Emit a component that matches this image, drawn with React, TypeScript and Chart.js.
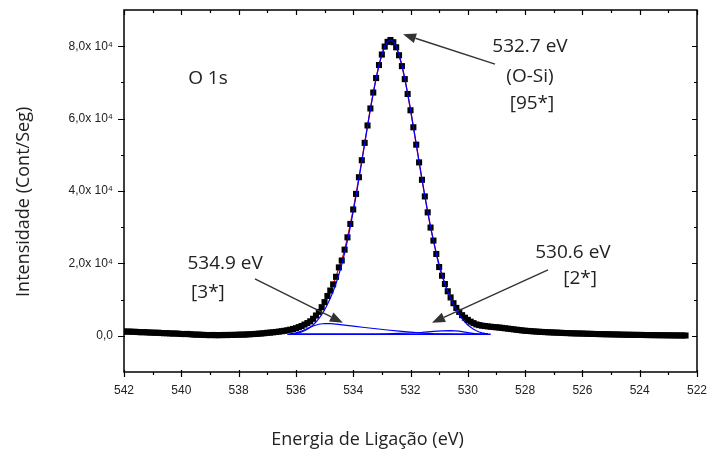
import React, { useEffect, useRef } from "react";
import { Chart, registerables } from "chart.js";

Chart.register(...registerables);

// ---------- data ----------
// measured spectrum: binding energy grid starts at 542.0 eV and steps down by 0.1 eV
const ENERGY_START = 542.0;
const ENERGY_STEP = 0.1;
const measuredCounts = [
  1200, 1140, 1180, 1090, 1110, 1030, 980, 1010, 940, 900,
  880, 830, 850, 770, 710, 730, 660, 620, 640, 570,
  510, 470, 520, 430, 380, 310, 340, 270, 240, 210,
  180, 230, 150, 200, 170, 240, 190, 260, 230, 280,
  300, 340, 320, 390, 430, 480, 520, 590, 640, 720,
  820, 880, 960, 1050, 1150, 1260, 1380, 1520, 1680, 1880,
  2100, 2400, 2700, 3100, 3500, 4000, 4700, 5600, 6600, 7900,
  9300, 11000, 12500, 14200, 16300, 18900, 20800, 23800, 27200, 30900,
  34900, 39200, 43800, 48500, 53300, 58100, 62800, 67200, 71200, 74800,
  77700, 79900, 81200, 81700, 81100, 79700, 77500, 74500, 70900, 66800,
  62300, 57600, 52800, 47900, 43100, 38500, 34100, 29900, 26300, 22600,
  19000, 16600, 14300, 12300, 10600, 9000, 7700, 6600, 5700, 5000,
  4400, 3900, 3500, 3150, 2950, 2800, 2700, 2600, 2500, 2420,
  2350, 2280, 2180, 2080, 1980, 1880, 1780, 1680, 1580, 1480,
  1400, 1340, 1280, 1220, 1160, 1110, 1060, 1020, 980, 950,
  900, 880, 840, 800, 760, 740, 700, 680, 650, 640,
  620, 580, 560, 540, 510, 490, 470, 450, 430, 420,
  400, 380, 360, 340, 320, 300, 290, 280, 260, 250,
  240, 230, 210, 200, 190, 180, 170, 160, 150, 140,
  130, 120, 110, 100, 100, 90, 80,
];

// fit range
const FIT_START = 536.2;
const FIT_END = 529.3;

// main component 532.7 eV (O-Si), grid from 536.2 eV down by 0.1 eV
const mainComponent = [
  480, 550, 650, 830, 1050, 1400, 1800, 2350, 3000, 3800,
  4750, 5850, 7150, 8650, 10350, 12250, 14450, 16900, 19700, 22850,
  26350, 30150, 34300, 38700, 43350, 48150, 53000, 57850, 62600, 67050,
  71150, 74750, 77700, 79900, 81300, 81750, 81300, 79900, 77700, 74750,
  71150, 67050, 62600, 57850, 53000, 48150, 43350, 38700, 34300, 30150,
  26350, 22850, 19700, 16900, 14450, 12250, 10350, 8650, 7150, 5850,
  4750, 3800, 3000, 2350, 1800, 1400, 1050, 830, 650, 550,
];

// component 534.9 eV
const comp1Energy = [536.2, 536.0, 535.8, 535.6, 535.4, 535.2, 535.0, 534.8, 534.6, 534.3, 534.0, 533.6, 533.2, 532.8, 532.4, 532.0, 531.6, 531.2, 530.8, 530.4, 530.0, 529.6, 529.3];
const comp1Counts = [480, 800, 1300, 2000, 2700, 3200, 3400, 3350, 3200, 2950, 2650, 2300, 1950, 1600, 1300, 1000, 760, 600, 520, 480, 460, 455, 450];

// component 530.6 eV
const comp2Energy = [536.2, 533.6, 533.2, 532.8, 532.4, 532.0, 531.6, 531.2, 530.9, 530.6, 530.3, 530.0, 529.7, 529.5, 529.3];
const comp2Counts = [450, 460, 500, 560, 650, 780, 950, 1200, 1380, 1450, 1300, 900, 550, 470, 455];

// background
const baselineEnergy = [536.3, 529.2];
const baselineCounts = [450, 450];

// axes
const X_MIN = 522;
const X_MAX = 542;
const Y_MIN = -10000;
const Y_MAX = 90000;
const xMajorTicks = [542, 540, 538, 536, 534, 532, 530, 528, 526, 524, 522];
const xMinorTicks = [541, 539, 537, 535, 533, 531, 529, 527, 525, 523];
const yMajorTicks = [0, 20000, 40000, 60000, 80000];
const yTickLabels = ["0,0", "2,0x 10\u2074", "4,0x 10\u2074", "6,0x 10\u2074", "8,0x 10\u2074"];
const yMinorTicks = [10000, 30000, 50000, 70000];

const X_TITLE = "Energia de Ligação (eV)";
const Y_TITLE = "Intensidade (Cont/Seg)";

// annotations (data units)
const labelTexts = ["O 1s", "532.7 eV", "(O-Si)", "[95*]", "534.9 eV", "[3*]", "530.6 eV", "[2*]"];
const labelEnergy = [539.07, 527.83, 527.83, 527.76, 538.47, 539.07, 526.33, 526.08];
const labelCounts = [71170, 80000, 71720, 64280, 19860, 11860, 22900, 15720];

const arrowFromEnergy = [529.05, 537.43, 527.2];
const arrowFromCounts = [75030, 15720, 18210];
const arrowToEnergy = [532.26, 534.36, 531.25];
const arrowToCounts = [83310, 3590, 3590];

// ---------- helpers ----------
const round1 = (v: number) => Math.round(v * 10) / 10;
const measuredPoints = measuredCounts.map((c, i) => ({ x: round1(ENERGY_START - i * ENERGY_STEP), y: c }));
const mainPoints = mainComponent.map((c, i) => ({ x: round1(FIT_START - i * ENERGY_STEP), y: c }));
const envelopePoints = measuredPoints.filter((p) => p.x <= FIT_START && p.x >= FIT_END);
const comp1Points = comp1Energy.map((e, i) => ({ x: e, y: comp1Counts[i] }));
const comp2Points = comp2Energy.map((e, i) => ({ x: e, y: comp2Counts[i] }));
const baselinePoints = baselineEnergy.map((e, i) => ({ x: e, y: baselineCounts[i] }));

const TEXT_COLOR = "#222";
const TITLE_FONT = '18px "Open Sans", "DejaVu Sans", sans-serif';
const NOTE_FONT = '19px "Open Sans", "DejaVu Sans", sans-serif';

const decorPlugin = {
  id: "decor",
  afterDraw(chart: any) {
    const { ctx, chartArea: a, scales } = chart;
    const xs = scales.x;
    const ys = scales.y;
    ctx.save();

    // frame
    ctx.strokeStyle = "#000";
    ctx.lineWidth = 1.5;
    ctx.strokeRect(a.left, a.top, a.right - a.left, a.bottom - a.top);

    // ticks
    ctx.lineWidth = 1.2;
    ctx.beginPath();
    for (const v of xMajorTicks) {
      const px = Math.round(xs.getPixelForValue(v)) + 0.5;
      ctx.moveTo(px, a.bottom - 2);
      ctx.lineTo(px, a.bottom + 5);
      ctx.moveTo(px, a.top);
      ctx.lineTo(px, a.top + 5);
    }
    for (const v of xMinorTicks) {
      const px = Math.round(xs.getPixelForValue(v)) + 0.5;
      ctx.moveTo(px, a.bottom);
      ctx.lineTo(px, a.bottom + 3);
      ctx.moveTo(px, a.top);
      ctx.lineTo(px, a.top + 3);
    }
    for (const v of yMajorTicks) {
      const py = Math.round(ys.getPixelForValue(v)) + 0.5;
      ctx.moveTo(a.left - 6, py);
      ctx.lineTo(a.left + 1, py);
      ctx.moveTo(a.right, py);
      ctx.lineTo(a.right - 5, py);
    }
    for (const v of yMinorTicks) {
      const py = Math.round(ys.getPixelForValue(v)) + 0.5;
      ctx.moveTo(a.left - 3, py);
      ctx.lineTo(a.left, py);
      ctx.moveTo(a.right, py);
      ctx.lineTo(a.right - 3, py);
    }
    ctx.stroke();

    // arrows
    ctx.strokeStyle = "#333";
    ctx.fillStyle = "#333";
    for (let i = 0; i < arrowFromEnergy.length; i++) {
      const x0 = xs.getPixelForValue(arrowFromEnergy[i]);
      const y0 = ys.getPixelForValue(arrowFromCounts[i]);
      const x1 = xs.getPixelForValue(arrowToEnergy[i]);
      const y1 = ys.getPixelForValue(arrowToCounts[i]);
      const ang = Math.atan2(y1 - y0, x1 - x0);
      const hl = 13;
      const hw = 5;
      const bx = x1 - hl * Math.cos(ang);
      const by = y1 - hl * Math.sin(ang);
      ctx.lineWidth = 1.4;
      ctx.beginPath();
      ctx.moveTo(x0, y0);
      ctx.lineTo(bx, by);
      ctx.stroke();
      ctx.beginPath();
      ctx.moveTo(x1, y1);
      ctx.lineTo(bx + hw * Math.sin(ang), by - hw * Math.cos(ang));
      ctx.lineTo(bx - hw * Math.sin(ang), by + hw * Math.cos(ang));
      ctx.closePath();
      ctx.fill();
    }

    // notes
    ctx.fillStyle = TEXT_COLOR;
    ctx.font = NOTE_FONT;
    ctx.textAlign = "center";
    ctx.textBaseline = "middle";
    for (let i = 0; i < labelTexts.length; i++) {
      ctx.fillText(labelTexts[i], xs.getPixelForValue(labelEnergy[i]), ys.getPixelForValue(labelCounts[i]));
    }

    // axis titles
    ctx.font = TITLE_FONT;
    ctx.fillText(X_TITLE, a.left + (a.right - a.left) * 0.425, a.bottom + 68);
    ctx.save();
    ctx.translate(a.left - 100, a.top + (a.bottom - a.top) * 0.53);
    ctx.rotate(-Math.PI / 2);
    ctx.fillText(Y_TITLE, 0, 0);
    ctx.restore();

    ctx.restore();
  },
};

export default function App() {
  const canvasRef = useRef<HTMLCanvasElement | null>(null);

  useEffect(() => {
    if (!canvasRef.current) return;
    const chart = new Chart(canvasRef.current, {
      type: "line",
      data: {
        datasets: [
          {
            data: mainPoints,
            borderColor: "#0000ff",
            borderWidth: 1.2,
            pointRadius: 0,
            order: 1,
          },
          {
            data: comp1Points,
            borderColor: "#0000ff",
            borderWidth: 1.2,
            pointRadius: 0,
            order: 1,
          },
          {
            data: comp2Points,
            borderColor: "#0000ff",
            borderWidth: 1.2,
            pointRadius: 0,
            order: 1,
          },
          {
            data: baselinePoints,
            borderColor: "#0000ff",
            borderWidth: 1.5,
            pointRadius: 0,
            order: 1,
          },
          {
            data: measuredPoints,
            showLine: false,
            pointStyle: "rect",
            pointRadius: 4.3,
            backgroundColor: "#000",
            borderColor: "#000",
            borderWidth: 0,
            order: 3,
          },
          {
            data: envelopePoints,
            borderColor: "#ff0000",
            borderWidth: 1.2,
            pointRadius: 0,
            order: 4,
          },
        ],
      } as any,
      options: {
        animation: false,
        responsive: false,
        layout: { padding: { top: 10, right: 10, left: 0, bottom: 0 } },
        plugins: { legend: { display: false }, tooltip: { enabled: false } },
        scales: {
          x: {
            type: "linear",
            reverse: true,
            min: X_MIN,
            max: X_MAX,
            grid: { display: false, drawTicks: true, tickLength: 6 },
            border: { display: false },
            afterBuildTicks: (scale: any) => {
              scale.ticks = xMajorTicks.map((v) => ({ value: v }));
            },
            afterFit: (scale: any) => {
              scale.height = 84;
              scale.paddingLeft = 0;
              scale.paddingRight = 0;
            },
            ticks: {
              color: TEXT_COLOR,
              font: { family: '"Liberation Sans", Arial, sans-serif', size: 12 },
              padding: 5,
              maxRotation: 0,
              autoSkip: false,
              callback: (v: any) => String(v),
            },
          },
          y: {
            type: "linear",
            min: Y_MIN,
            max: Y_MAX,
            grid: { display: false, drawTicks: true, tickLength: 6 },
            border: { display: false },
            afterBuildTicks: (scale: any) => {
              scale.ticks = yMajorTicks.map((v) => ({ value: v }));
            },
            afterFit: (scale: any) => {
              scale.width = 124;
              scale.paddingTop = 0;
              scale.paddingBottom = 0;
            },
            ticks: {
              color: TEXT_COLOR,
              font: { family: '"Liberation Sans", Arial, sans-serif', size: 12 },
              padding: 5,
              autoSkip: false,
              callback: (v: any) => {
                const idx = yMajorTicks.indexOf(Number(v));
                return idx >= 0 ? yTickLabels[idx] : "";
              },
            },
          },
        },
      } as any,
      plugins: [decorPlugin],
    });
    return () => chart.destroy();
  }, []);

  return (
    <div style={{ position: "fixed", left: 0, top: 0, width: 707, height: 456, background: "#fff" }}>
      <canvas ref={canvasRef} width={707} height={456} style={{ display: "block" }} />
    </div>
  );
}
